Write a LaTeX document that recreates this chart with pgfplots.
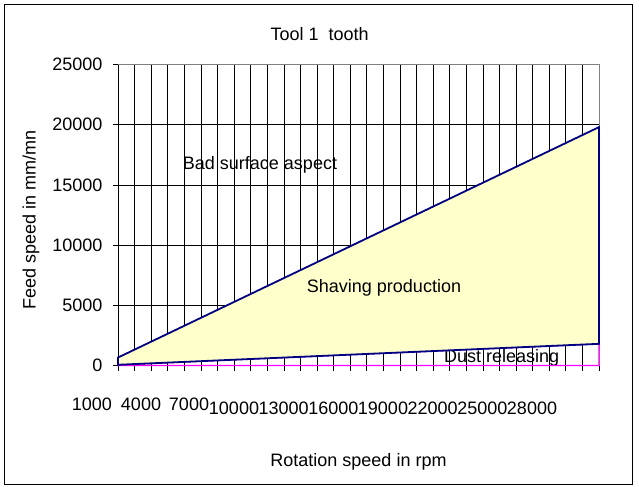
\documentclass[border=0pt]{standalone}
\usepackage{pgfplots}
\pgfplotsset{compat=1.18}
\usepackage{fontspec}
\setmainfont{Liberation Sans}
\definecolor{areayellow}{HTML}{FFFFCC}
\definecolor{navyline}{HTML}{000080}
\definecolor{magline}{HTML}{FF00FF}
\definecolor{bordergray}{HTML}{808080}
\begin{document}
\begin{tikzpicture}[font=\fontsize{18bp}{22bp}\selectfont]
% picture frame: axis' lower left corner is at (0,0)
\path (-118bp,365.5bp) rectangle (521bp,-121.5bp);
\draw[black,line width=1bp] (-113.5bp,361bp) rectangle (514bp,-118.5bp);
\begin{axis}[
  set layers,
  at={(0,0)}, anchor=south west,
  scale only axis, width=481bp, height=301bp,
  xmin=1000, xmax=30000, ymin=0, ymax=25000,
  axis lines=left, axis line style={-, black, line width=0.9bp},
  xtick={1000,2000,...,30000}, xticklabels={},
  ytick={0,5000,...,25000},
  grid=major, major grid style={black, line width=0.7bp},
  tick align=outside, major tick length=5bp,
  tick style={black, line width=0.7bp},
  scaled x ticks=false, scaled y ticks=false,
  /pgf/number format/assume math mode=true,
  /pgf/number format/1000 sep={},
  yticklabel style={font=\fontsize{18bp}{22bp}\selectfont, xshift=-7bp},
  extra x ticks={1000,2387,5281,7994,10990,13981,16977,19974,22964,25961},
  extra x tick labels={\makebox[0pt][r]{\raisebox{4bp}{1000}\hspace{6bp}},\raisebox{4bp}{4000},\raisebox{4bp}{7000},10000,13000,16000,19000,22000,25000,28000},
  extra x tick style={grid=none, major tick length=0pt,
    xticklabel style={anchor=base, yshift=-48.5bp, font=\fontsize{18bp}{22bp}\selectfont}},
  title={Tool 1\ \ tooth},
  title style={at={(axis description cs:0.419,1.0615)}, anchor=base},
  xlabel={Rotation speed in rpm},
  xlabel style={at={(axis description cs:0.5,-0.334)}, anchor=base},
  ylabel={Feed speed in mm/mn},
  ylabel style={at={(axis description cs:-0.181,0.483)}, anchor=center},
  clip=false,
]
\node[on layer=axis background, anchor=base] at (axis cs:9561,16296) {Bad surface aspect};
\node[on layer=axis background, anchor=base] at (axis cs:24134,266) {Dust releasing};
\draw[bordergray,line width=1bp] (rel axis cs:0,1) -- (rel axis cs:1,1) -- (rel axis cs:1,0);
% Dust releasing zone (0 to lower limit)
\addplot[draw=magline, line width=1.3bp] coordinates {
(1000,60)(2000,120)(3000,180)(4000,240)(5000,300)(6000,360)(7000,420)(8000,480)(9000,540)(10000,600)
(11000,660)(12000,720)(13000,780)(14000,840)(15000,900)(16000,960)(17000,1020)(18000,1080)(19000,1140)(20000,1200)
(21000,1260)(22000,1320)(23000,1380)(24000,1440)(25000,1500)(26000,1560)(27000,1620)(28000,1680)(29000,1740)(30000,1800)
} \closedcycle;
% Shaving production zone (lower limit to upper limit)
\addplot[draw=navyline, fill=areayellow, line width=1.8bp] coordinates {
(1000,660)(2000,1320)(3000,1980)(4000,2640)(5000,3300)(6000,3960)(7000,4620)(8000,5280)(9000,5940)(10000,6600)
(11000,7260)(12000,7920)(13000,8580)(14000,9240)(15000,9900)(16000,10560)(17000,11220)(18000,11880)(19000,12540)(20000,13200)
(21000,13860)(22000,14520)(23000,15180)(24000,15840)(25000,16500)(26000,17160)(27000,17820)(28000,18480)(29000,19140)(30000,19800)
(30000,1800)(29000,1740)(28000,1680)(27000,1620)(26000,1560)(25000,1500)(24000,1440)(23000,1380)(22000,1320)(21000,1260)
(20000,1200)(19000,1140)(18000,1080)(17000,1020)(16000,960)(15000,900)(14000,840)(13000,780)(12000,720)(11000,660)
(10000,600)(9000,540)(8000,480)(7000,420)(6000,360)(5000,300)(4000,240)(3000,180)(2000,120)(1000,60)
} --cycle;
\node[anchor=base] at (axis cs:17038,6080) {Shaving production};
\end{axis}
\end{tikzpicture}
\end{document}
